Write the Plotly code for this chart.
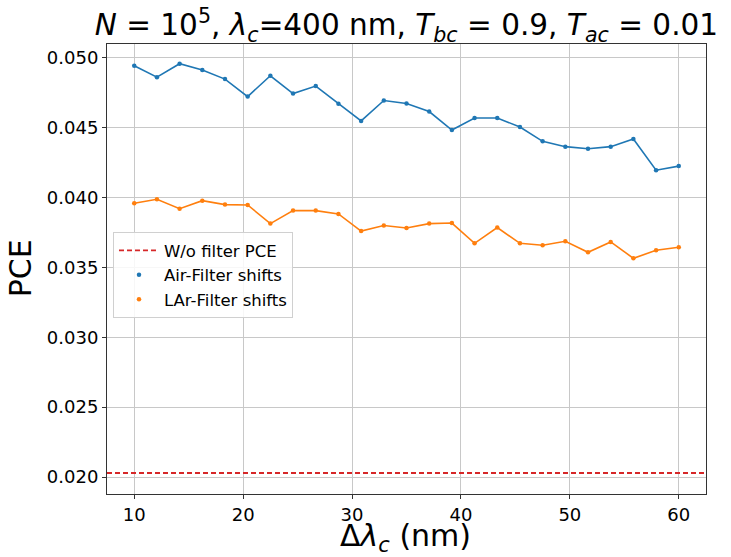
import numpy as np
import plotly.graph_objects as go

delta_lambda = np.linspace(10, 60, 25)

air_pce = [0.04940, 0.04859, 0.04955, 0.04910, 0.04845, 0.04720, 0.04869, 0.04742,
           0.04795, 0.04668, 0.04546, 0.04692, 0.04671, 0.04613, 0.04481, 0.04567,
           0.04567, 0.04503, 0.04400, 0.04362, 0.04347, 0.04362, 0.04417, 0.04194,
           0.04223]

lar_pce = [0.03957, 0.03986, 0.03919, 0.03976, 0.03948, 0.03945, 0.03812, 0.03905,
           0.03905, 0.03881, 0.03759, 0.03798, 0.03781, 0.03812, 0.03816, 0.03671,
           0.03784, 0.03671, 0.03657, 0.03686, 0.03607, 0.03681, 0.03564, 0.03621,
           0.03643]

no_filter_pce = 0.02029

x_ticks = [10, 20, 30, 40, 50, 60]
y_ticks = [0.020, 0.025, 0.030, 0.035, 0.040, 0.045, 0.050]
y_tick_labels = ["0.020", "0.025", "0.030", "0.035", "0.040", "0.045", "0.050"]

BLUE = "#1f77b4"
ORANGE = "#ff7f0e"
RED = "#d62728"
FONT = "DejaVu Sans"

fig = go.Figure()

# no-filter reference line
fig.add_trace(go.Scatter(
    x=[7.5, 62.5], y=[no_filter_pce, no_filter_pce], mode="lines",
    line=dict(color=RED, width=1.8, dash="5px,3px"),
    name="W/o filter PCE"))

# connecting lines (no legend)
fig.add_trace(go.Scatter(x=delta_lambda, y=air_pce, mode="lines",
                         line=dict(color=BLUE, width=1.6), showlegend=False))
fig.add_trace(go.Scatter(x=delta_lambda, y=lar_pce, mode="lines",
                         line=dict(color=ORANGE, width=1.6), showlegend=False))
# markers (legend)
fig.add_trace(go.Scatter(x=delta_lambda, y=air_pce, mode="markers",
                         marker=dict(color=BLUE, size=4.5), name="Air-Filter shifts"))
fig.add_trace(go.Scatter(x=delta_lambda, y=lar_pce, mode="markers",
                         marker=dict(color=ORANGE, size=4.5), name="LAr-Filter shifts"))

axis_common = dict(
    showline=True, linecolor="#333333", linewidth=1, mirror=True,
    showgrid=True, gridcolor="#c8c8c8", gridwidth=1,
    ticks="outside", ticklen=4, tickcolor="#333333",
    tickfont=dict(family=FONT, size=18, color="black"),
    zeroline=False, automargin=False,
)

fig.update_layout(
    width=731, height=557,
    margin=dict(l=107, r=25, t=44, b=63),
    paper_bgcolor="white", plot_bgcolor="white",
    font=dict(family=FONT, color="black"),
    title=dict(
        text="<i>N</i> = 10<sup>5</sup>, <i>λ</i><sub><i>c</i></sub>=400 nm, "
             "<i>T</i><sub><i>bc</i></sub> = 0.9, <i>T</i><sub><i>ac</i></sub> = 0.01",
        x=0.556, xanchor="center", y=0.955, yanchor="middle", yref="container",
        font=dict(family=FONT, size=29.5, color="black")),
    xaxis=dict(range=[7.5, 62.5], tickvals=x_ticks, **axis_common),
    yaxis=dict(range=[0.01879, 0.05096], tickvals=y_ticks, ticktext=y_tick_labels,
               **axis_common),
    legend=dict(x=0.01, y=0.582, xanchor="left", yanchor="top",
                bgcolor="rgba(255,255,255,0.85)", bordercolor="#d0d0d0", borderwidth=1,
                font=dict(family=FONT, size=16.5, color="black"),
                tracegroupgap=0, itemwidth=40),
    showlegend=True,
    annotations=[
        dict(text="Δ<i>λ</i><sub><i>c</i></sub> (nm)", xref="paper", yref="paper",
             x=0.499, y=-0.050, xanchor="center", yanchor="top", showarrow=False,
             borderpad=0,
             font=dict(family=FONT, size=30, color="black")),
        dict(text="PCE", xref="paper", yref="paper", textangle=-90,
             x=-0.145, y=0.502, xanchor="center", yanchor="middle", showarrow=False,
             font=dict(family=FONT, size=30, color="black")),
    ],
)

fig.write_html("out.html")
